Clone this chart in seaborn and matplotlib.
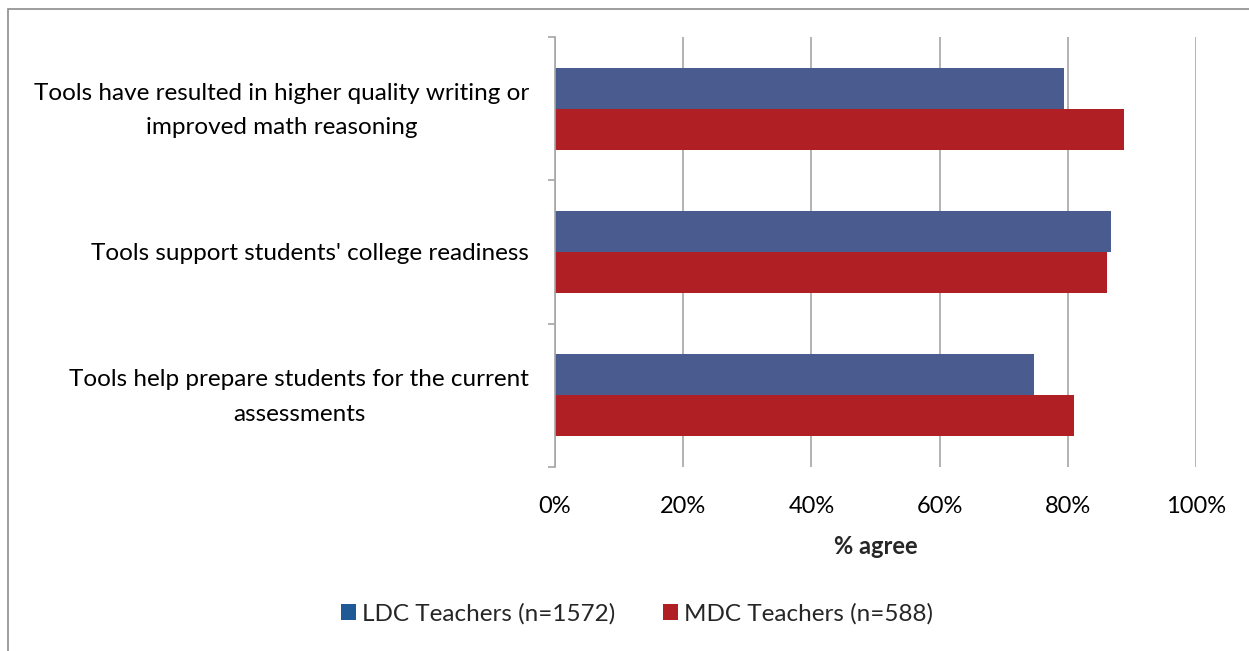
import matplotlib
matplotlib.use("Agg")
import matplotlib.pyplot as plt
import matplotlib.patches as mpatches
import matplotlib.transforms as mtransforms
from matplotlib.ticker import FixedLocator, PercentFormatter
import seaborn as sns
import pandas as pd

categories = [
    "Tools have resulted in higher quality writing or\nimproved math reasoning",
    "Tools support students' college readiness",
    "Tools help prepare students for the current\nassessments",
]
series_names = ["LDC Teachers (n=1572)", "MDC Teachers (n=588)"]
ldc_values = [79.4, 86.8, 74.8]
mdc_values = [88.8, 86.1, 80.9]
x_ticks = [0, 20, 40, 60, 80, 100]
x_label = "% agree"

bar_colors = ["#4A5B8F", "#B01F24"]
legend_colors = ["#1F5A96", "#B01F24"]

df = pd.DataFrame({
    "category": categories * 2,
    "series": [series_names[0]] * 3 + [series_names[1]] * 3,
    "value": ldc_values + mdc_values,
})

sns.set_style("white")
plt.rcParams["font.family"] = ["Lato", "DejaVu Sans"]

fig = plt.figure(figsize=(12.49, 6.51), dpi=100)
ax = fig.add_axes([555 / 1249, 1 - 467 / 651, (1196 - 555) / 1249, (467 - 37) / 651])

sns.barplot(data=df, y="category", x="value", hue="series", order=categories,
            hue_order=series_names, palette=bar_colors, orient="h",
            width=0.574, saturation=1, ax=ax, legend=False, edgecolor="none")

ax.set_xlim(0, 100)
ax.set_ylim(2.5, -0.5)
ax.xaxis.set_major_locator(FixedLocator(x_ticks))
ax.xaxis.set_major_formatter(PercentFormatter(decimals=0))
ax.grid(axis="x", color="#A6A6A6", linewidth=1.2)
ax.set_axisbelow(True)
ax.tick_params(axis="x", length=0, pad=21, labelsize=17, colors="black")
ax.tick_params(axis="y", which="major", left=False, length=0, pad=18.5, labelsize=17.5, colors="black")
ax.yaxis.set_minor_locator(FixedLocator([-0.5, 0.5, 1.5, 2.5]))
ax.tick_params(axis="y", which="minor", left=True, length=5, width=1.2, color="#A6A6A6", direction="out")
shift_up = mtransforms.ScaledTranslation(0, 5 / 72, fig.dpi_scale_trans)
for lbl in ax.get_yticklabels():
    lbl.set_multialignment("center")
    lbl.set_linespacing(1.8)
    if "\n" in lbl.get_text():
        lbl.set_transform(lbl.get_transform() + shift_up)
ax.set_ylabel("")
ax.set_xlabel(x_label, fontsize=17, fontweight="bold", labelpad=13)

for side in ["top", "right", "bottom"]:
    ax.spines[side].set_visible(False)
ax.spines["left"].set_color("#A6A6A6")
ax.spines["left"].set_linewidth(1.2)

handles = [mpatches.Patch(facecolor=c, edgecolor="none") for c in legend_colors]
fig.legend(handles, series_names, loc="center", bbox_to_anchor=(637 / 1249, 1 - 614 / 651),
           ncol=2, frameon=False, fontsize=17.5, handlelength=0.6, handleheight=0.6,
           handletextpad=0.25, columnspacing=1.97)

fig.patches.append(mpatches.Rectangle((8 / 1249, -0.1), 1.2, 1 - 9 / 651 + 0.1,
                                      transform=fig.transFigure, fill=False,
                                      edgecolor="#8C8C8C", linewidth=1.2))

fig.savefig("out.png", dpi=100)
